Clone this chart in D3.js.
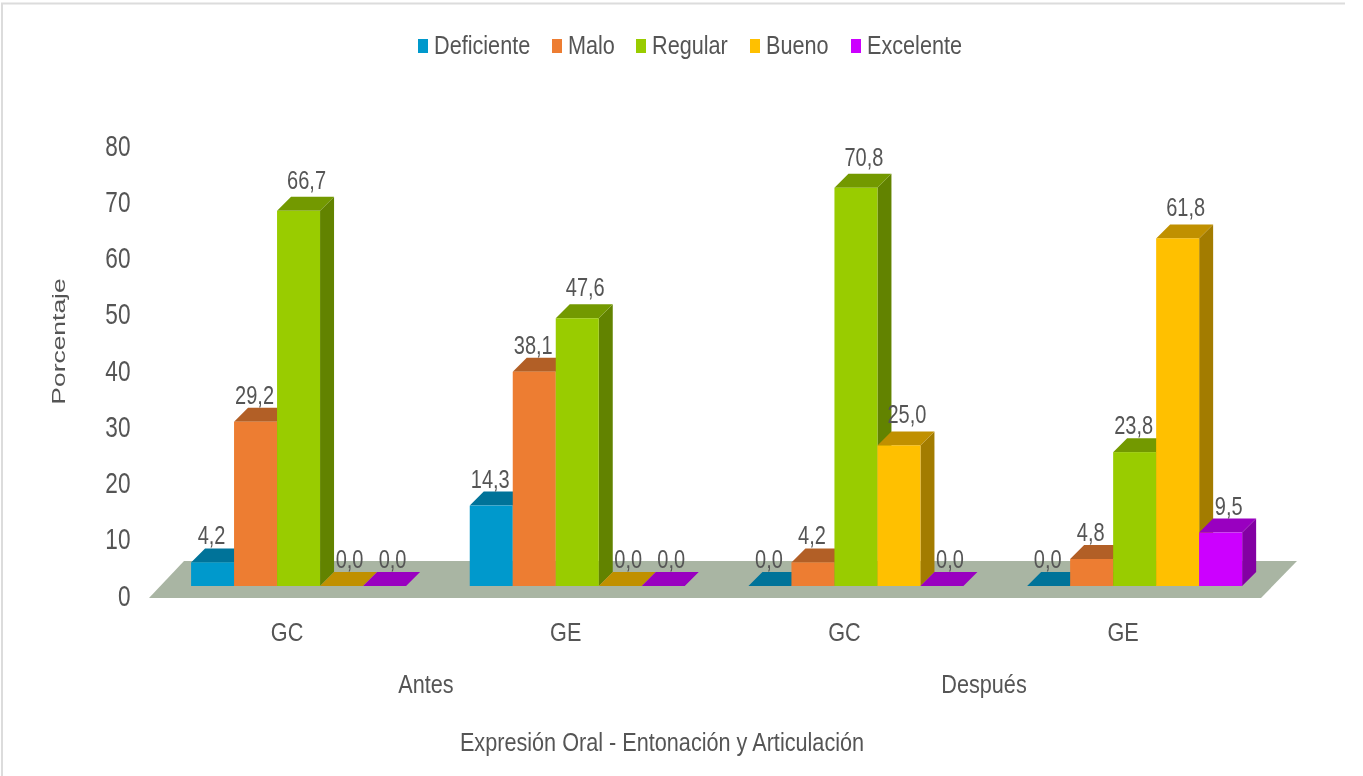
<!DOCTYPE html>
<meta charset="utf-8">
<head>
<title>Expresión Oral - Entonación y Articulación</title>
<style>
html, body { margin: 0; background: #fff; }
svg { display: block; }
text { font-family: "Liberation Sans", Arial, sans-serif; fill: #555; }
</style>
</head>
<body>
<div id="chart"></div>
<script src="https://d3js.org/d3.v7.min.js"></script>
<script>
var groups = ["Antes GC", "Antes GE", "Después GC", "Después GE"];
var groupLabels = ["GC", "GE", "GC", "GE"];
var series = ["Deficiente", "Malo", "Regular", "Bueno", "Excelente"];
var colors = ["#0099cc", "#ed7d31", "#99cc00", "#ffc000", "#cc00ff"];
var deficiente = [4.2, 14.3, 0, 0];
var malo = [29.2, 38.1, 4.2, 4.8];
var regular = [66.7, 47.6, 70.8, 23.8];
var bueno = [0, 0, 25.0, 61.8];
var excelente = [0, 0, 0, 9.5];
var yTicks = [0, 10, 20, 30, 40, 50, 60, 70, 80];
var outerLabels = ["Antes", "Después"];

var values = [deficiente, malo, regular, bueno, excelente];
var width = 1363, height = 776;
var depth = 14;

var svg = d3.select("#chart").append("svg")
    .attr("width", width)
    .attr("height", height);

svg.append("defs").append("filter")
    .attr("id", "soft")
    .append("feGaussianBlur")
    .attr("stdDeviation", 0.6);

var g = svg.append("g").attr("filter", "url(#soft)");

// faint frame left over in the original screenshot
g.append("path")
    .attr("d", d3.line()([[2, height], [2, 3.5], [1345, 3.5]]))
    .attr("fill", "none")
    .attr("stroke", "#dcdcdc")
    .attr("stroke-width", 2);

var x0 = d3.scaleBand().domain(groups).range([159.2, 1274]);
var x1 = d3.scaleBand().domain(series).range([0, 215]);
var y = d3.scaleLinear().domain([0, 80]).range([586, 136]);

var offset = function (i) { return x0(groups[i]) + (x0.bandwidth() - x1.range()[1]) / 2; };

// text is stretched in the original, so squeeze it sideways
function label(str, x, y, size, sx, anchor) {
  return g.append("text")
      .attr("transform", "translate(" + x + "," + y + ") scale(" + sx + ",1)")
      .attr("text-anchor", anchor || "middle")
      .style("font-size", size + "px")
      .text(str);
}

// floor
g.append("path")
    .attr("d", d3.line()([[149, 598], [1261, 598], [1297, 561], [184, 561]]) + "Z")
    .attr("fill", "#a9b5a3");

var darker = function (c, k) { return d3.color(c).darker(k).formatHex(); };

// bars, left to right so the side faces overlap properly
series.forEach(function (s, si) {
  groups.forEach(function (gr, gi) {
    var v = values[si][gi];
    var xl = offset(gi) + x1(s), xr = xl + x1.bandwidth();
    var yt = y(v), yb = y(0);
    var bar = g.append("g");
    bar.append("path")
        .attr("d", d3.line()([[xr, yt], [xr + depth, yt - depth], [xr + depth, yb - depth], [xr, yb]]) + "Z")
        .attr("fill", darker(colors[si], 1.25));
    bar.append("path")
        .attr("d", d3.line()([[xl, yt], [xl + depth, yt - depth], [xr + depth, yt - depth], [xr, yt]]) + "Z")
        .attr("fill", darker(colors[si], 0.8));
    bar.append("rect")
        .attr("x", xl).attr("y", yt)
        .attr("width", xr - xl).attr("height", yb - yt)
        .attr("fill", colors[si]);
  });
});

// value labels on top; they sit left and lower when the next bar would hide them
series.forEach(function (s, si) {
  groups.forEach(function (gr, gi) {
    var v = values[si][gi];
    var next = si < series.length - 1 ? values[si + 1][gi] : 0;
    var shift = next > v ? -1 : 8;
    var gap = (next > v || v < 10) ? 4 : 8;
    label(v.toFixed(1).replace(".", ","),
        offset(gi) + x1(s) + x1.bandwidth() / 2 + shift,
        y(v) - depth - gap, 25, 0.8);
  });
});

// y axis labels
yTicks.forEach(function (t) {
  label(t, 130.5, y(t) + 19.5, 29, 0.78, "end");
});

g.append("text")
    .attr("transform", "translate(65,341.5) rotate(-90) scale(1.47,1)")
    .attr("text-anchor", "middle")
    .style("font-size", "18px")
    .text("Porcentaje");

// group labels
groupLabels.forEach(function (l, i) {
  label(l, offset(i) + 96, 641, 25, 0.866);
});

label(outerLabels[0], 426, 693, 25, 0.866);
label(outerLabels[1], 984, 693, 25, 0.866);
label("Expresión Oral - Entonación y Articulación", 662, 751, 25, 0.866);

// legend
var legendX = [418, 552, 636, 750, 851];
series.forEach(function (s, i) {
  g.append("rect")
      .attr("x", legendX[i]).attr("y", 39)
      .attr("width", 10).attr("height", 14)
      .attr("fill", colors[i]);
  label(s, legendX[i] + 16, 54, 25, 0.866, "start");
});
</script>
</body>
